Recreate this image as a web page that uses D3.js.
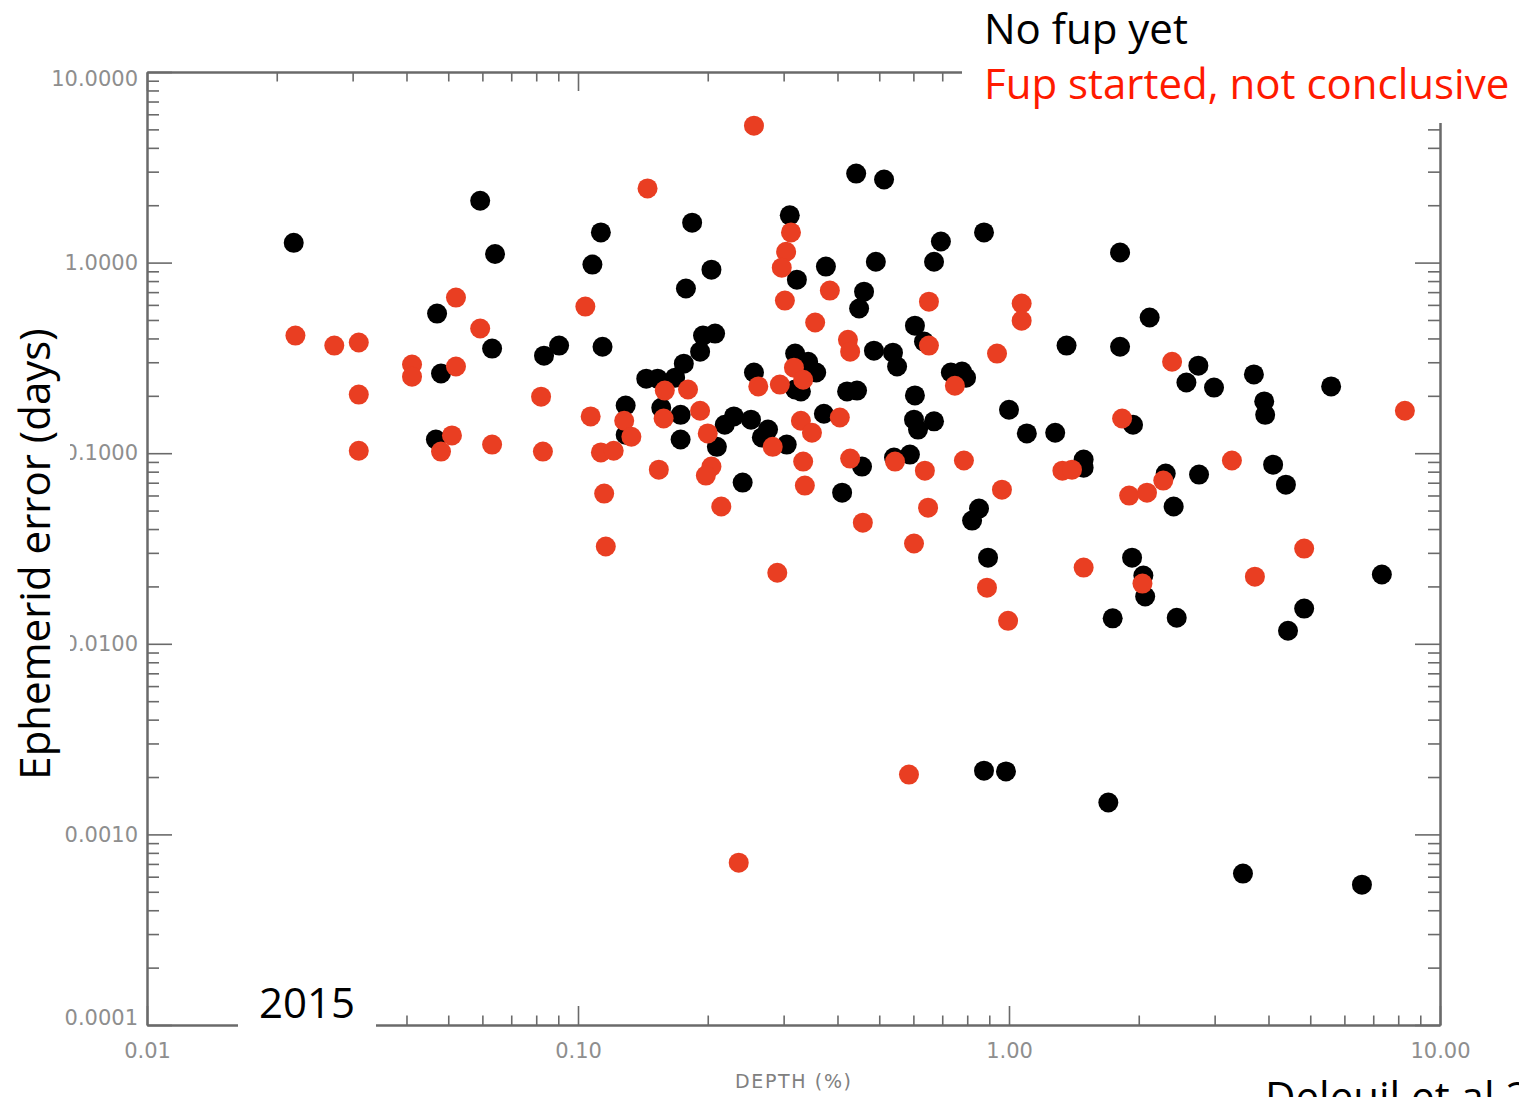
<!DOCTYPE html>
<html>
<head>
<meta charset="utf-8">
<script src="https://cdn.jsdelivr.net/npm/d3@7"></script>
<style>
  body { margin: 0; background: #fff; overflow: hidden; }
  svg { display: block; }
  .axis path, .axis line { stroke: #6a6a6a; }
  .axis path { stroke-width: 2; }
  .axis line { stroke-width: 1.6; }
  .axis text { font-family: "DejaVu Sans"; font-size: 21px; fill: #8e8e8e; }
  .big { font-family: "Open Sans"; font-size: 42px; }
</style>
</head>
<body>
<svg width="1519" height="1097"></svg>
<script>
// tick values
const xMajor = [0.01, 0.1, 1, 10];
const yMajor = [0.0001, 0.001, 0.01, 0.1, 1, 10];

// "No fup yet" (black)
const noFupDepth = [0.0219,0.0593,0.0642,0.113,0.108,0.184,0.204,0.178,0.310,0.322,
  0.376,0.442,0.513,0.695,0.875,0.491,0.670,1.81,0.461,0.449,
  0.605,0.635,2.12,0.486,0.538,0.550,1.36,1.81,2.75,2.58,
  2.99,3.70,3.91,3.93,5.59,0.0471,0.0481,0.0468,0.0632,0.0834,
  0.0904,0.114,0.195,0.208,0.192,0.176,0.144,0.153,0.168,0.256,
  0.319,0.342,0.357,0.329,0.319,0.421,0.733,0.778,0.795,0.444,
  0.605,0.129,0.156,0.173,0.230,0.252,0.276,0.267,0.219,0.372,
  0.210,0.305,0.173,0.129,1.00,1.94,0.602,0.670,0.615,1.10,
  1.28,0.456,0.541,0.589,1.49,1.49,4.10,4.39,2.31,2.76,
  2.41,0.241,0.410,0.821,0.852,0.894,1.74,1.93,2.05,2.07,
  2.45,4.84,4.44,7.33,0.875,0.984,1.70,3.49,6.59];
const noFupError = [1.27,2.11,1.11,1.44,0.976,1.62,0.918,0.731,1.77,0.814,
  0.953,2.93,2.73,1.29,1.44,1.01,1.01,1.13,0.704,0.574,
  0.467,0.385,0.515,0.345,0.337,0.285,0.367,0.362,0.288,0.235,
  0.221,0.259,0.187,0.159,0.224,0.540,0.262,0.118,0.354,0.325,
  0.367,0.362,0.414,0.424,0.341,0.295,0.246,0.246,0.249,0.265,
  0.333,0.302,0.265,0.211,0.216,0.211,0.265,0.268,0.249,0.213,
  0.201,0.178,0.173,0.159,0.156,0.150,0.133,0.121,0.141,0.161,
  0.108,0.111,0.118,0.125,0.169,0.141,0.150,0.147,0.133,0.127,
  0.128,0.0851,0.0948,0.0983,0.0926,0.0840,0.0871,0.0684,0.0782,0.0772,
  0.0525,0.0701,0.0621,0.0443,0.0512,0.0283,0.0136,0.0283,0.0228,0.0177,
  0.0137,0.0153,0.0117,0.0231,0.00216,0.00214,0.00147,0.000623,0.000545];

// "Fup started, not conclusive" (red)
const fupDepth = [0.256,0.145,0.312,0.304,0.297,0.384,0.302,0.0521,0.104,0.0593,
  0.355,0.0221,0.0272,0.0310,0.0412,0.0412,0.0521,0.159,0.180,0.0310,
  0.0821,0.262,0.294,0.317,0.333,0.423,0.428,0.652,1.07,1.07,
  0.652,0.938,2.39,0.749,8.29,0.192,0.107,0.128,0.329,0.349,
  0.405,0.158,0.133,0.200,0.283,0.0510,0.0481,0.0632,0.0829,0.0310,
  0.113,0.121,0.154,0.204,0.198,0.215,0.115,0.116,0.290,0.333,
  0.336,0.428,0.544,0.638,0.786,1.83,1.33,1.40,3.29,0.458,
  0.649,0.602,0.963,0.889,0.995,1.49,2.04,1.90,2.09,2.28,
  3.72,4.84,0.586,0.236];
const fupError = [5.23,2.45,1.44,1.14,0.941,0.713,0.632,0.655,0.588,0.451,
  0.485,0.414,0.367,0.381,0.292,0.252,0.285,0.213,0.216,0.203,
  0.198,0.224,0.229,0.281,0.243,0.394,0.341,0.624,0.610,0.496,
  0.367,0.333,0.302,0.226,0.167,0.167,0.156,0.148,0.148,0.128,
  0.154,0.152,0.122,0.127,0.108,0.124,0.102,0.111,0.102,0.103,
  0.101,0.103,0.0820,0.0851,0.0763,0.0525,0.0614,0.0324,0.0236,0.0904,
  0.0676,0.0937,0.0904,0.0810,0.0915,0.152,0.0810,0.0820,0.0915,0.0432,
  0.0518,0.0336,0.0644,0.0197,0.0132,0.0251,0.0207,0.0599,0.0621,0.0718,
  0.0225,0.0316,0.00206,0.000711];

const svg = d3.select("svg");

const x = d3.scaleLog().domain([0.01, 10]).range([147, 1440]);
const y = d3.scaleLog().domain([0.0001, 10]).range([1025, 72]);

// minor ticks 2..9 in each decade
const minors = (lo, hi) => {
  const out = [];
  for (let p = lo; p < hi; p *= 10)
    for (let k = 2; k <= 9; k++) out.push(+(k * p).toPrecision(3));
  return out;
};
const xMinor = minors(0.01, 10);
const yMinor = minors(0.0001, 10);

// bottom
svg.append("g").attr("class", "axis").attr("transform", "translate(0,1025)")
  .call(d3.axisBottom(x).tickValues(xMajor).tickFormat(d3.format(".2f"))
    .tickSize(-19).tickSizeOuter(0).tickPadding(18));
svg.append("g").attr("class", "axis").attr("transform", "translate(0,1025)")
  .call(d3.axisBottom(x).tickValues(xMinor).tickFormat("").tickSize(-9.5).tickSizeOuter(0));

// top
svg.append("g").attr("class", "axis").attr("transform", "translate(0,72)")
  .call(d3.axisTop(x).tickValues(xMajor).tickFormat("").tickSize(-19).tickSizeOuter(0));
svg.append("g").attr("class", "axis").attr("transform", "translate(0,72)")
  .call(d3.axisTop(x).tickValues(xMinor).tickFormat("").tickSize(-9.5).tickSizeOuter(0));

// left
const yAx = svg.append("g").attr("class", "axis").attr("transform", "translate(147,0)")
  .call(d3.axisLeft(y).tickValues(yMajor).tickFormat(d3.format(".4f"))
    .tickSize(-25).tickSizeOuter(0).tickPadding(9));
yAx.selectAll(".tick text")
  .attr("transform", d => d === 10 ? "translate(0,7)" : d === 0.0001 ? "translate(0,-7)" : null);
svg.append("g").attr("class", "axis").attr("transform", "translate(147,0)")
  .call(d3.axisLeft(y).tickValues(yMinor).tickFormat("").tickSize(-12).tickSizeOuter(0));

// right
svg.append("g").attr("class", "axis").attr("transform", "translate(1440,0)")
  .call(d3.axisRight(y).tickValues(yMajor).tickFormat("").tickSize(-25).tickSizeOuter(0));
svg.append("g").attr("class", "axis").attr("transform", "translate(1440,0)")
  .call(d3.axisRight(y).tickValues(yMinor).tickFormat("").tickSize(-12).tickSizeOuter(0));

svg.append("text")
  .attr("x", 793).attr("y", 1088)
  .attr("text-anchor", "middle")
  .attr("textLength", 116)
  .style("font-family", "DejaVu Sans")
  .style("font-size", "19px")
  .style("fill", "#808080")
  .text("DEPTH (%)");

// points
svg.append("g").selectAll("circle")
  .data(d3.zip(noFupDepth, noFupError))
  .join("circle")
  .attr("cx", d => x(d[0]))
  .attr("cy", d => y(d[1]))
  .attr("r", 10)
  .attr("fill", "#000");

svg.append("g").selectAll("circle")
  .data(d3.zip(fupDepth, fupError))
  .join("circle")
  .attr("cx", d => x(d[0]))
  .attr("cy", d => y(d[1]))
  .attr("r", 10)
  .attr("fill", "#e93e22");

// slide text boxes laid over the plot
svg.append("rect").attr("x", 962).attr("y", 0).attr("width", 557).attr("height", 123).attr("fill", "#fff");
svg.append("rect").attr("x", 238).attr("y", 975).attr("width", 138).attr("height", 70).attr("fill", "#fff");
svg.append("rect").attr("x", 0).attr("y", 290).attr("width", 70).attr("height", 510).attr("fill", "#fff");

svg.append("text").attr("class", "big")
  .attr("x", 984).attr("y", 44).attr("fill", "#000").text("No fup yet");
svg.append("text").attr("class", "big")
  .attr("x", 984).attr("y", 99).attr("fill", "#ff1a00").text("Fup started, not conclusive");

svg.append("text").attr("class", "big")
  .attr("transform", "translate(50,554) rotate(-90)")
  .attr("text-anchor", "middle")
  .attr("fill", "#000")
  .text("Ephemerid error (days)");

svg.append("text").attr("class", "big")
  .attr("x", 259).attr("y", 1018).attr("fill", "#000").text("2015");

// reference cuts this credit off at the bottom edge
svg.append("text").attr("class", "big")
  .attr("x", 1265).attr("y", 1112).attr("fill", "#000").text("Deleuil et al 2018");
</script>
</body>
</html>
